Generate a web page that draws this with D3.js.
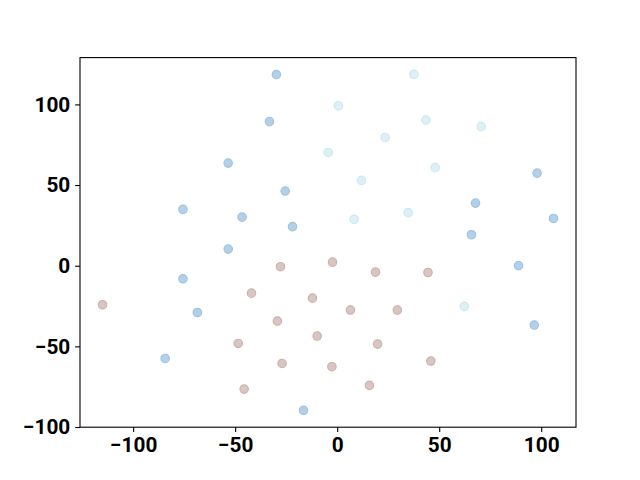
<!DOCTYPE html>
<html>
<head>
<meta charset="utf-8">
<script src="https://cdn.jsdelivr.net/npm/d3@7"></script>
<style>
  body { margin: 0; background: #fff; }
  svg { display: block; }
  .tick text { font-family: Roboto, "DejaVu Sans", sans-serif; font-weight: bold; font-size: 20.8px; fill: #000; }
</style>
</head>
<body>
<div id="chart"></div>
<script>
// ---- data ----
// group 1 (blue)
var blueX = [-29.8, -33.2, -53.4, -25.5, -75.6, -46.6, -21.9, -53.4, 98.0, 67.8, 106.0, 65.8, 88.9, 96.6, -75.6, -68.5, -84.3, -16.5];
var blueY = [118.5, 89.3, 63.6, 46.3, 34.9, 30.1, 24.2, 10.3, 57.4, 38.8, 29.3, 19.2, 0.0, -36.8, -8.1, -29.0, -57.5, -89.7];
// group 2 (light cyan)
var cyanX = [-4.4, 37.6, 0.6, 43.5, 23.5, 70.6, 48.0, 11.9, 34.8, 8.3, 62.3];
var cyanY = [70.2, 118.6, 99.2, 90.3, 79.5, 86.2, 60.8, 52.9, 32.9, 28.7, -25.2];
// group 3 (brown)
var brownX = [-27.8, -2.3, -42.0, -12.1, -115.0, -29.3, -9.8, -48.5, -27.0, -2.6, -45.6, 18.8, 44.5, 6.5, 29.5, 19.8, 45.9, 15.8];
var brownY = [-0.6, 2.2, -17.0, -20.1, -24.2, -34.3, -43.6, -48.2, -60.6, -62.6, -76.5, -4.0, -4.2, -27.5, -27.5, -48.6, -59.1, -74.2];

var xTicks = [-100, -50, 0, 50, 100];
var yTicks = [-100, -50, 0, 50, 100];

var groups = [
  {xs: blueX, ys: blueY, fill: "#b4d0e8", stroke: "#9fc3e1"},
  {xs: cyanX, ys: cyanY, fill: "#dcf0f6", stroke: "#cbe8f0"},
  {xs: brownX, ys: brownY, fill: "#d9c6c2", stroke: "#cbb2ac"}
];

// ---- layout (matplotlib default figure 640x480) ----
var W = 640, H = 480;
var margin = {top: 57.6, right: 64, bottom: 52.8, left: 80},
    width = W - margin.left - margin.right,
    height = H - margin.top - margin.bottom;

var allX = blueX.concat(cyanX, brownX);
var allY = blueY.concat(cyanY, brownY);
var xExt = d3.extent(allX), yExt = d3.extent(allY);
var xPad = (xExt[1] - xExt[0]) * 0.05, yPad = (yExt[1] - yExt[0]) * 0.05;

var x = d3.scaleLinear().domain([xExt[0] - xPad, xExt[1] + xPad]).range([0, width]);
var y = d3.scaleLinear().domain([yExt[0] - yPad, yExt[1] + yPad]).range([height, 0]);

var svg = d3.select("#chart").append("svg")
    .attr("width", W)
    .attr("height", H)
  .append("g")
    .attr("transform", "translate(" + margin.left + "," + margin.top + ")");

// points
groups.forEach(function(g) {
  var pts = g.xs.map(function(v, i) { return [v, g.ys[i]]; });
  svg.append("g").selectAll("circle")
    .data(pts)
    .enter().append("circle")
      .attr("cx", function(d) { return x(d[0]); })
      .attr("cy", function(d) { return y(d[1]); })
      .attr("r", 4.2)
      .attr("fill", g.fill)
      .attr("stroke", g.stroke)
      .attr("stroke-width", 1.2);
});

// axes
var tickLen = 4.86, tickPad = 4.86;
var xAxis = svg.append("g")
    .attr("transform", "translate(0," + height + ")")
    .call(d3.axisBottom(x).tickValues(xTicks).tickSize(tickLen).tickPadding(tickPad)
      .tickFormat(function(d) { return d < 0 ? "\u2212" + Math.abs(d) : d; }));
var yAxis = svg.append("g")
    .call(d3.axisLeft(y).tickValues(yTicks).tickSize(tickLen).tickPadding(tickPad)
      .tickFormat(function(d) { return d < 0 ? "\u2212" + Math.abs(d) : d; }));

[xAxis, yAxis].forEach(function(a) {
  a.select(".domain").remove();
  a.selectAll(".tick line").attr("stroke", "#000").attr("stroke-width", 1.1);
});

// frame
svg.append("rect")
    .attr("x", 0).attr("y", 0)
    .attr("width", width).attr("height", height)
    .attr("fill", "none")
    .attr("stroke", "#000")
    .attr("stroke-width", 1.1);
</script>
</body>
</html>
